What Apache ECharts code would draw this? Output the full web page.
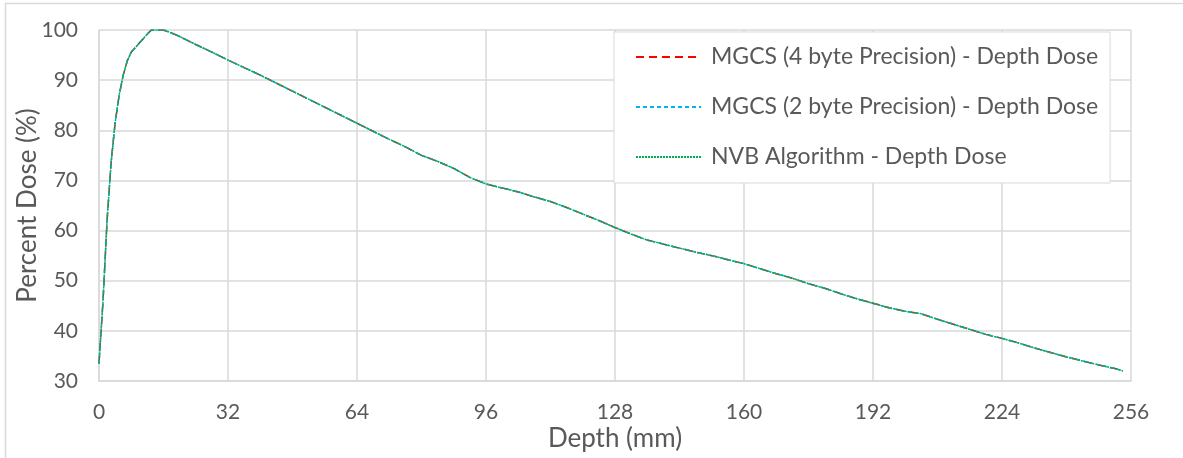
<!DOCTYPE html>
<html>
<head>
<meta charset="utf-8">
<script src="https://cdn.jsdelivr.net/npm/echarts@6/dist/echarts.min.js"></script>
<style>
  html, body { margin: 0; padding: 0; background: #ffffff; }
  #chart { width: 1183px; height: 458px; }
</style>
</head>
<body>
<div id="chart"></div>
<script>
// Depth positions (mm) along the central axis
const depth = [0, 1, 2, 3, 4, 5, 6, 7, 8, 10, 12, 13, 16, 18, 20, 24, 28, 32, 36, 40,
  44, 48, 52, 56, 60, 64, 68, 72, 76, 80, 84, 88, 92, 96, 100, 104, 108, 112, 116, 120,
  124, 128, 132, 136, 140, 144, 148, 152, 156, 160, 164, 168, 172, 176, 180, 184, 188, 192, 196, 200,
  204, 208, 212, 216, 220, 224, 228, 232, 236, 240, 244, 248, 252, 254];

// Percent depth dose, MGCS with 4 byte precision
const doseMgcs4 = [33.5, 46.0, 62.0, 73.5, 81.5, 87.0, 91.0, 93.8, 95.6, 97.4, 99.2, 100.0, 100.0, 99.4, 98.7, 97.1, 95.6, 94.0, 92.5, 91.0,
  89.4, 87.8, 86.2, 84.6, 83.0, 81.4, 79.8, 78.2, 76.7, 75.0, 73.8, 72.4, 70.6, 69.3, 68.5, 67.7, 66.7, 65.8, 64.6, 63.3,
  62.0, 60.6, 59.3, 58.1, 57.3, 56.5, 55.7, 55.0, 54.2, 53.4, 52.4, 51.4, 50.5, 49.4, 48.5, 47.4, 46.4, 45.5, 44.6, 43.9,
  43.4, 42.3, 41.3, 40.3, 39.3, 38.5, 37.6, 36.6, 35.7, 34.8, 34.0, 33.2, 32.5, 32.0];

// Percent depth dose, MGCS with 2 byte precision
const doseMgcs2 = [33.5, 46.0, 62.0, 73.5, 81.5, 87.0, 91.0, 93.8, 95.6, 97.4, 99.2, 100.0, 100.0, 99.4, 98.7, 97.1, 95.6, 94.0, 92.5, 91.0,
  89.4, 87.8, 86.2, 84.6, 83.0, 81.4, 79.8, 78.2, 76.7, 75.0, 73.8, 72.4, 70.6, 69.3, 68.5, 67.7, 66.7, 65.8, 64.6, 63.3,
  62.0, 60.6, 59.3, 58.1, 57.3, 56.5, 55.7, 55.0, 54.2, 53.4, 52.4, 51.4, 50.5, 49.4, 48.5, 47.4, 46.4, 45.5, 44.6, 43.9,
  43.4, 42.3, 41.3, 40.3, 39.3, 38.5, 37.6, 36.6, 35.7, 34.8, 34.0, 33.2, 32.5, 32.0];

// Percent depth dose, NVB algorithm
const doseNvb = [33.5, 46.0, 62.0, 73.5, 81.5, 87.0, 91.0, 93.8, 95.6, 97.4, 99.2, 100.0, 100.0, 99.4, 98.7, 97.1, 95.6, 94.0, 92.5, 91.0,
  89.4, 87.8, 86.2, 84.6, 83.0, 81.4, 79.8, 78.2, 76.7, 75.0, 73.8, 72.4, 70.6, 69.3, 68.5, 67.7, 66.7, 65.8, 64.6, 63.3,
  62.0, 60.6, 59.3, 58.1, 57.3, 56.5, 55.7, 55.0, 54.2, 53.4, 52.4, 51.4, 50.5, 49.4, 48.5, 47.4, 46.4, 45.5, 44.6, 43.9,
  43.4, 42.3, 41.3, 40.3, 39.3, 38.5, 37.6, 36.6, 35.7, 34.8, 34.0, 33.2, 32.5, 32.0];

const seriesNames = [
  'MGCS (4 byte Precision) - Depth Dose',
  'MGCS (2 byte Precision) - Depth Dose',
  'NVB Algorithm - Depth Dose'
];

const FONT = 'Lato, "Open Sans", sans-serif';
const TEXT = '#595959';
const GRID = '#d9d9d9';

const pairs = (ys) => depth.map((d, i) => [d, ys[i]]);

const chart = echarts.init(document.getElementById('chart'), null, { renderer: 'canvas' });

chart.setOption({
  animation: false,
  backgroundColor: '#ffffff',
  textStyle: { fontFamily: FONT, color: TEXT },
  grid: { left: 99, right: 52, top: 30, bottom: 77, containLabel: false, outerBoundsMode: 'none' },
  graphic: [
    { type: 'line', shape: { x1: 5, y1: 3.5, x2: 1183, y2: 3.5 }, style: { stroke: GRID, lineWidth: 1.5 } },
    { type: 'line', shape: { x1: 5.5, y1: 3, x2: 5.5, y2: 458 }, style: { stroke: GRID, lineWidth: 1.5 } }
  ],
  xAxis: {
    type: 'value',
    min: 0, max: 256, interval: 32,
    name: 'Depth (mm)',
    nameLocation: 'middle',
    nameGap: 45,
    nameMoveOverlap: false,
    nameTextStyle: { fontSize: 26, color: TEXT, fontFamily: FONT },
    axisLine: { show: true, lineStyle: { color: GRID, width: 1.5 } },
    axisTick: { show: false },
    axisLabel: { fontSize: 21, color: TEXT, margin: 21, fontFamily: FONT },
    splitLine: { show: true, lineStyle: { color: GRID, width: 1.5 } }
  },
  yAxis: {
    type: 'value',
    min: 30, max: 100, interval: 10,
    name: 'Percent Dose (%)',
    nameLocation: 'middle',
    nameGap: 58,
    nameMoveOverlap: false,
    nameTextStyle: { fontSize: 26, color: TEXT, fontFamily: FONT },
    axisLine: { show: true, lineStyle: { color: GRID, width: 1.5 } },
    axisTick: { show: false },
    axisLabel: { fontSize: 21, color: TEXT, margin: 21, fontFamily: FONT },
    splitLine: { show: true, lineStyle: { color: GRID, width: 1.5 } }
  },
  legend: {
    orient: 'vertical',
    left: 614, top: 32,
    padding: [13, 12, 14, 21],
    itemGap: 26,
    itemWidth: 65,
    itemHeight: 24,
    backgroundColor: '#ffffff',
    borderColor: GRID,
    borderWidth: 1,
    itemStyle: { opacity: 0 },
    textStyle: { fontSize: 23, color: TEXT, fontFamily: FONT, lineHeight: 24, padding: [0, 0, 0, 5] },
    data: seriesNames
  },
  series: [
    {
      name: seriesNames[0], type: 'line', data: pairs(doseMgcs4),
      symbol: 'none', smooth: false, z: 3,
      color: '#ff0000',
      lineStyle: { color: '#ff0000', width: 1.5, type: [8, 5] }
    },
    {
      name: seriesNames[1], type: 'line', data: pairs(doseMgcs2),
      symbol: 'none', smooth: false, z: 4,
      color: '#00b0f0',
      lineStyle: { color: '#00b0f0', width: 1.5, type: [4, 3] }
    },
    {
      name: seriesNames[2], type: 'line', data: pairs(doseNvb),
      symbol: 'none', smooth: false, z: 5,
      color: '#00b050',
      lineStyle: { color: '#00b050', width: 1.5, type: [2, 1] }
    }
  ]
});
</script>
</body>
</html>
